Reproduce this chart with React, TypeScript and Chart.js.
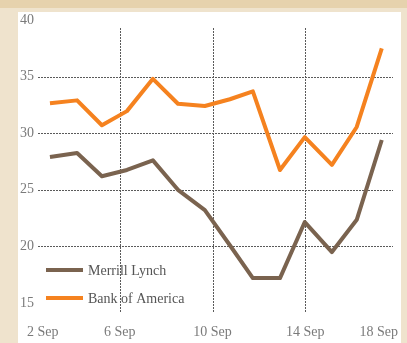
import React, { useEffect, useRef } from "react";
import { Chart, registerables } from "chart.js";

Chart.register(...registerables);

// Day-of-September positions of each observation
const days = [2.99, 4.16, 5.23, 6.31, 7.43, 8.51, 9.67, 10.75, 11.74, 12.91, 13.98, 15.15, 16.22, 17.3];
const merrillLynch = [27.9, 28.25, 26.2, 26.75, 27.6, 25.0, 23.2, 20.1, 17.2, 17.2, 22.15, 19.5, 22.35, 29.4];
const bankOfAmerica = [32.65, 32.9, 30.7, 31.95, 34.8, 32.6, 32.4, 33.0, 33.7, 26.75, 29.65, 27.2, 30.55, 37.5];

const xTickValues = [2, 6, 10, 14, 18];
const xTickLabels = ["2 Sep", "6 Sep", "10 Sep", "14 Sep", "18 Sep"];
const yTickValues = [15, 20, 25, 30, 35, 40];
const yGridValues = [20, 25, 30, 35];
const xGridValues = [6, 10, 14];
const seriesNames = ["Merrill Lynch", "Bank of America"];

const FONT = "'Liberation Serif', 'DejaVu Serif', serif";

const gridPlugin = {
  id: "customGrid",
  beforeDatasetsDraw(chart: any) {
    const { ctx, scales } = chart;
    const xs = scales.x;
    const ys = scales.y;
    ctx.save();
    ctx.strokeStyle = "#5a5a5a";
    ctx.lineWidth = 1;
    ctx.setLineDash([2, 1]);
    const x0 = xs.getPixelForValue(2) + 11;
    const x1 = xs.getPixelForValue(18) - 5;
    yGridValues.forEach((v) => {
      const y = Math.round(ys.getPixelForValue(v)) + 0.5;
      ctx.beginPath();
      ctx.moveTo(x0, y);
      ctx.lineTo(x1, y);
      ctx.stroke();
    });
    const y0 = ys.getPixelForValue(40) + 8;
    const y1 = ys.getPixelForValue(15) + 9;
    xGridValues.forEach((v) => {
      const x = Math.round(xs.getPixelForValue(v)) + 0.5;
      ctx.beginPath();
      ctx.moveTo(x, y0);
      ctx.lineTo(x, y1);
      ctx.stroke();
    });
    ctx.restore();
  },
  afterDatasetsDraw(chart: any) {
    const { ctx } = chart;
    ctx.save();
    ctx.font = `14px ${FONT}`;
    ctx.textBaseline = "middle";
    ctx.textAlign = "left";
    const rows = [270, 298];
    chart.data.datasets.forEach((ds: any, i: number) => {
      const y = rows[i];
      ctx.strokeStyle = ds.borderColor;
      ctx.lineWidth = 4;
      ctx.setLineDash([]);
      ctx.beginPath();
      ctx.moveTo(46, y);
      ctx.lineTo(83, y);
      ctx.stroke();
      ctx.fillStyle = "#555";
      ctx.fillText(ds.label, 88, y + 1);
    });
    ctx.restore();
  },
};

export default function App() {
  const ref = useRef<HTMLCanvasElement>(null);

  useEffect(() => {
    document.body.style.margin = "0";
    const canvas = ref.current!;
    const chart = new Chart(canvas, {
      type: "line",
      data: {
        datasets: [
          {
            label: seriesNames[0],
            data: days.map((d, i) => ({ x: d, y: merrillLynch[i] })),
            borderColor: "#7a634f",
            borderWidth: 4,
            pointRadius: 0,
            tension: 0,
            borderJoinStyle: "round",
          },
          {
            label: seriesNames[1],
            data: days.map((d, i) => ({ x: d, y: bankOfAmerica[i] })),
            borderColor: "#f5821f",
            borderWidth: 4,
            pointRadius: 0,
            tension: 0,
            borderJoinStyle: "round",
          },
        ],
      },
      options: {
        responsive: false,
        animation: false,
        layout: { padding: { left: 27, right: 9, top: 20, bottom: 0 } },
        plugins: { legend: { display: false }, tooltip: { enabled: false } },
        scales: {
          x: {
            type: "linear",
            min: 2,
            max: 18,
            grid: { display: false, drawTicks: true, tickLength: 21 },
            border: { display: false },
            afterBuildTicks: (s: any) => {
              s.ticks = xTickValues.map((v) => ({ value: v }));
            },
            afterFit: (s: any) => {
              s.height = 40;
            },
            ticks: {
              align: "inner",
              padding: 0,
              maxRotation: 0,
              autoSkip: false,
              color: "#7a7a7a",
              font: { family: FONT, size: 14 },
              callback: (v: any) => xTickLabels[xTickValues.indexOf(Number(v))] ?? "",
            },
          },
          y: {
            type: "linear",
            min: 15,
            max: 40,
            grid: { display: false, drawTicks: false },
            border: { display: false },
            afterBuildTicks: (s: any) => {
              s.ticks = yTickValues.map((v) => ({ value: v }));
            },
            afterFit: (s: any) => {
              s.width = 0;
            },
            ticks: {
              mirror: true,
              padding: -7,
              color: "#7a7a7a",
              font: { family: FONT, size: 14 },
            },
          },
        },
      } as any,
      plugins: [gridPlugin],
    });
    return () => chart.destroy();
  }, []);

  return (
    <div style={{ position: "relative", width: 407, height: 343, background: "#efe3cd", overflow: "hidden" }}>
      <div style={{ position: "absolute", left: 0, top: 0, width: 407, height: 8, background: "#e6d2ad" }} />
      <div style={{ position: "absolute", left: 18, top: 12, width: 383, height: 331, background: "#ffffff" }} />
      <canvas
        ref={ref}
        width={407}
        height={343}
        style={{ position: "absolute", left: 0, top: 0, width: 407, height: 343 }}
      />
    </div>
  );
}
